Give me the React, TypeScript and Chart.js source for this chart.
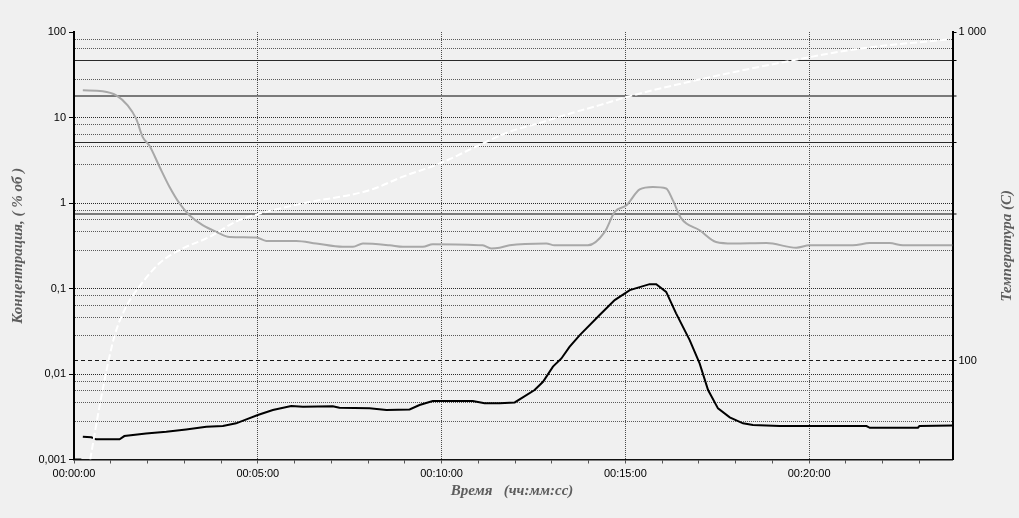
import React, { useEffect, useRef } from 'react';
import { Chart, registerables } from 'chart.js';

Chart.register(...registerables);

// ---- Data (time in minutes) ----
const greyTime = [0.24, 0.78, 1.15, 1.46, 1.69, 1.87, 2.05, 2.33, 2.6, 2.87, 3.14, 3.5, 3.87, 4.23, 4.96, 5.23, 6.05, 6.59, 7.31, 7.59, 7.86, 8.59, 8.95, 9.49, 9.76, 11.12, 11.35, 11.58, 11.85, 12.85, 13.07, 13.98, 14.44, 14.71, 15.03, 15.39, 15.75, 16.11, 16.29, 16.52, 17.02, 17.47, 17.93, 18.84, 19.65, 20.01, 21.19, 21.65, 22.19, 22.55, 23.9];
const greyConc = [20.8, 20.3, 18.2, 13.9, 9.7, 5.9, 4.7, 2.64, 1.54, 0.99, 0.72, 0.55, 0.46, 0.4, 0.395, 0.36, 0.36, 0.336, 0.307, 0.307, 0.336, 0.32, 0.307, 0.307, 0.33, 0.32, 0.294, 0.3, 0.32, 0.336, 0.32, 0.32, 0.46, 0.787, 0.94, 1.44, 1.54, 1.48, 1.08, 0.66, 0.48, 0.35, 0.336, 0.34, 0.3, 0.32, 0.32, 0.34, 0.34, 0.32, 0.32];

const blackTime = [0, 0.2, 0.22, 0.24, 0.47, 0.6, 1.24, 1.37, 1.96, 2.51, 3.05, 3.6, 4.05, 4.41, 4.69, 5.0, 5.41, 5.91, 6.23, 7.04, 7.22, 8.04, 8.5, 9.13, 9.4, 9.76, 10.85, 11.17, 11.58, 11.99, 12.53, 12.76, 13.03, 13.26, 13.48, 13.76, 14.3, 14.71, 15.12, 15.66, 15.84, 16.11, 16.38, 16.75, 17.02, 17.25, 17.52, 17.84, 18.2, 18.47, 19.2, 21.56, 21.65, 22.96, 23.0, 23.9];
const blackConc = [0.001, 0.001, null, 0.00185, 0.00182, 0.00172, 0.00172, 0.00188, 0.00202, 0.00211, 0.00225, 0.00242, 0.00246, 0.00265, 0.00295, 0.00331, 0.0038, 0.00422, 0.00415, 0.0042, 0.00403, 0.00397, 0.0038, 0.00385, 0.00434, 0.00483, 0.00483, 0.00454, 0.00454, 0.00465, 0.00649, 0.0081, 0.0122, 0.0152, 0.0208, 0.0285, 0.0489, 0.0731, 0.0957, 0.1125, 0.1125, 0.0914, 0.0512, 0.0249, 0.0133, 0.00649, 0.00396, 0.00311, 0.00265, 0.00253, 0.00246, 0.00246, 0.00235, 0.00235, 0.00246, 0.0025];

const tempTime = [0.44, 0.78, 1.1, 1.42, 1.78, 2.33, 2.87, 3.69, 4.41, 5.05, 6.23, 8.04, 8.95, 9.95, 11.12, 11.85, 12.7, 13.5, 14.3, 15.12, 17.02, 19.56, 21.38, 23.82];
const tempValues = [50, 81.6, 118.6, 146, 168, 198, 217, 238, 265, 280, 301, 330, 363, 398, 458, 497, 530, 565, 599, 638, 717, 820, 890, 950];

// ---- Axis ticks ----
const xTickValues = [0, 1, 2, 3, 4, 5, 6, 7, 8, 9, 10, 11, 12, 13, 14, 15, 16, 17, 18, 19, 20, 21, 22, 23];
const xLabelStep = 5;
const leftTickValues = [
  0.001, 0.0028, 0.0046, 0.0064, 0.0082,
  0.01, 0.028, 0.046, 0.064, 0.082,
  0.1, 0.28, 0.46, 0.64, 0.82,
  1, 2.8, 4.6, 6.4, 8.2,
  10, 28, 46, 64, 82,
  100,
];
const rightTickValues = [100, 280, 460, 640, 820, 1000];
const rightLabels: Record<number, string> = { 100: '100', 1000: '1 000' };

const xTitle = 'Время   (чч:мм:сс)';
const yTitle = 'Концентрация, ( % об )';
const y2Title = 'Температура (C)';

const TICK_FONT = { family: '"Liberation Sans", Arial, sans-serif', size: 11 };
const TRANSPARENT = 'rgba(0,0,0,0)';

function isDecade(v: number) {
  const l = Math.log10(v);
  return Math.abs(l - Math.round(l)) < 1e-6;
}
function fmtLeft(v: number) {
  if (v >= 1) return String(Math.round(v));
  const digits = Math.round(-Math.log10(v));
  return v.toFixed(digits).replace('.', ',');
}
function fmtTime(m: number) {
  const mm = String(Math.round(m)).padStart(2, '0');
  return `00:${mm}:00`;
}

const bgAndTitles = {
  id: 'bgAndTitles',
  beforeDraw(chart: any) {
    const { ctx, width, height } = chart;
    ctx.save();
    ctx.fillStyle = '#f0f0f0';
    ctx.fillRect(0, 0, width, height);
    ctx.restore();
  },
  afterDraw(chart: any) {
    const { ctx, chartArea } = chart;
    const cy = (chartArea.top + chartArea.bottom) / 2;
    ctx.save();
    ctx.fillStyle = '#5e5e5e';
    ctx.font = 'italic bold 15px "Liberation Serif", "Times New Roman", serif';
    ctx.textAlign = 'center';
    ctx.textBaseline = 'middle';
    ctx.fillText(xTitle, 512, 491);
    ctx.save();
    ctx.translate(18, cy);
    ctx.rotate(-Math.PI / 2);
    ctx.fillText(yTitle, 0, 0);
    ctx.restore();
    ctx.save();
    ctx.translate(1007, cy);
    ctx.rotate(-Math.PI / 2);
    ctx.fillText(y2Title, 0, 0);
    ctx.restore();
    ctx.restore();
  },
};

export default function App() {
  const ref = useRef<HTMLCanvasElement | null>(null);

  useEffect(() => {
    if (!ref.current) return;
    const chart = new Chart(ref.current, {
      type: 'line',
      data: {
        datasets: [
          {
            label: 'Температура',
            data: tempTime.map((t, i) => ({ x: t, y: tempValues[i] })),
            yAxisID: 'y2',
            borderColor: '#ffffff',
            borderWidth: 2,
            borderDash: [7, 3],
            pointRadius: 0,
            cubicInterpolationMode: 'monotone',
          },
          {
            label: 'C2',
            data: blackTime.map((t, i) => ({ x: t, y: blackConc[i] })),
            yAxisID: 'y',
            borderColor: '#000000',
            borderWidth: 2,
            pointRadius: 0,
            tension: 0,
            spanGaps: false,
          },
          {
            label: 'C1',
            data: greyTime.map((t, i) => ({ x: t, y: greyConc[i] })),
            yAxisID: 'y',
            borderColor: '#a8a8a8',
            borderWidth: 2,
            pointRadius: 0,
            cubicInterpolationMode: 'monotone',
          },
        ],
      } as any,
      options: {
        animation: false,
        responsive: false,
        layout: { padding: { top: 32, left: 0, right: 0, bottom: 0 } },
        plugins: { legend: { display: false }, tooltip: { enabled: false } },
        scales: {
          x: {
            type: 'linear',
            position: 'bottom',
            min: 0,
            max: 23.9,
            afterBuildTicks: (s: any) => {
              s.ticks = xTickValues.map((v) => ({ value: v }));
            },
            afterFit: (s: any) => {
              s.height = 58.5;
            },
            ticks: {
              autoSkip: false,
              maxRotation: 0,
              font: TICK_FONT,
              color: '#000',
              padding: 4,
              callback: (v: any) => (Number(v) % xLabelStep === 0 ? fmtTime(Number(v)) : ''),
            },
            grid: {
              color: (c: any) =>
                c.tick && c.tick.value % xLabelStep === 0 && c.tick.value !== 0 ? '#4a4a4a' : TRANSPARENT,
              lineWidth: 1,
              tickColor: '#555',
              tickLength: 4,
              tickWidth: 1,
            },
            border: { display: true, color: '#111', width: 1.5, dash: [1, 1] },
          },
          y: {
            type: 'logarithmic',
            position: 'left',
            min: 0.001,
            max: 100,
            afterBuildTicks: (s: any) => {
              s.ticks = leftTickValues.map((v) => ({ value: v }));
            },
            afterFit: (s: any) => {
              s.width = 74;
            },
            ticks: {
              autoSkip: false,
              font: TICK_FONT,
              color: '#000',
              padding: 3,
              callback: (v: any) => (isDecade(Number(v)) ? fmtLeft(Number(v)) : ''),
            },
            grid: {
              color: (c: any) => {
                if (!c.tick) return '#555';
                const v = c.tick.value;
                if (v === 100 || v === 0.001) return TRANSPARENT;
                return isDecade(v) ? '#2a2a2a' : '#5a5a5a';
              },
              lineWidth: 1,
              tickColor: (c: any) => (c.tick && isDecade(c.tick.value) ? '#000' : TRANSPARENT),
              tickLength: 5,
              tickWidth: 1,
            },
            border: { display: true, color: '#000', width: 2, dash: [1, 1] },
          },
          y2: {
            type: 'logarithmic',
            position: 'right',
            min: 50,
            max: 1000,
            afterBuildTicks: (s: any) => {
              s.ticks = rightTickValues.map((v) => ({ value: v }));
            },
            afterFit: (s: any) => {
              s.width = 66.5;
            },
            ticks: {
              autoSkip: false,
              font: TICK_FONT,
              color: '#000',
              padding: 2,
              callback: (v: any) => rightLabels[Math.round(Number(v))] ?? '',
            },
            grid: {
              color: (c: any) => {
                if (!c.tick) return '#333';
                const v = Math.round(c.tick.value);
                if (v === 1000) return TRANSPARENT;
                if (v === 100) return '#1a1a1a';
                if (v === 280 || v === 640) return '#7a7a7a';
                return '#2a2a2a';
              },
              lineWidth: (c: any) => {
                if (!c.tick) return 1;
                const v = Math.round(c.tick.value);
                return v === 280 || v === 640 ? 2 : 1;
              },
              tickColor: '#000',
              tickLength: 4,
              tickWidth: 1,
            },
            border: {
              display: true,
              color: '#000',
              width: 2,
              dash: (c: any) => (c.tick && Math.round(c.tick.value) === 100 ? [4, 3] : []),
            },
          },
        },
      } as any,
      plugins: [bgAndTitles],
    });
    return () => chart.destroy();
  }, []);

  return (
    <div style={{ position: 'absolute', left: 0, top: 0, width: 1019, height: 518, background: '#f0f0f0' }}>
      <canvas ref={ref} width={1019} height={518} style={{ display: 'block', width: 1019, height: 518 }} />
    </div>
  );
}
